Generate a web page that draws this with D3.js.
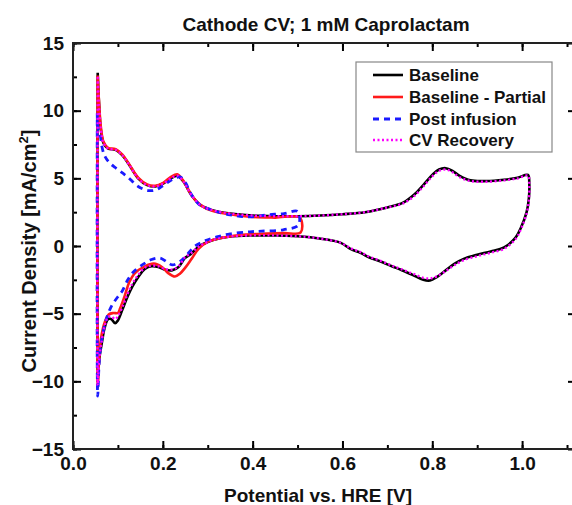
<!DOCTYPE html>
<html><head><meta charset="utf-8">
<script src="https://cdn.jsdelivr.net/npm/d3@7"></script>
<style>html,body{margin:0;padding:0;background:#fff;overflow:hidden}svg{display:block}text{font-family:"Liberation Sans",Arial,sans-serif;font-weight:bold}</style>
</head><body>
<script>
// ---- data ----
const seriesNames = ["Baseline", "Baseline - Partial", "Post infusion", "CV Recovery"];
const xTicks = [0.0, 0.2, 0.4, 0.6, 0.8, 1.0];
const yTicks = [-15, -10, -5, 0, 5, 10, 15];
const baseline = [[0.055,12.8],[0.058,10.5],[0.062,8.6],[0.068,7.6],[0.078,7.2],[0.095,7.1],[0.11,6.7],[0.125,6.0],[0.145,5.0],[0.165,4.5],[0.183,4.4],[0.2,4.6],[0.218,5.0],[0.232,5.2],[0.245,4.8],[0.265,3.7],[0.285,3.0],[0.31,2.65],[0.35,2.4],[0.4,2.25],[0.45,2.2],[0.5,2.2],[0.55,2.25],[0.6,2.35],[0.65,2.5],[0.7,2.85],[0.735,3.2],[0.76,3.8],[0.78,4.5],[0.8,5.25],[0.815,5.65],[0.83,5.75],[0.845,5.55],[0.86,5.2],[0.885,4.85],[0.92,4.8],[0.96,4.9],[0.99,5.05],[1.013,5.25],[1.016,4.6],[1.015,3.5],[1.01,2.5],[0.998,1.4],[0.985,0.6],[0.96,-0.1],[0.93,-0.4],[0.9,-0.65],[0.87,-0.95],[0.85,-1.3],[0.83,-1.8],[0.81,-2.3],[0.795,-2.55],[0.78,-2.5],[0.757,-2.15],[0.73,-1.75],[0.71,-1.5],[0.685,-1.15],[0.66,-0.85],[0.64,-0.5],[0.62,-0.25],[0.595,0.25],[0.56,0.5],[0.528,0.65],[0.5,0.72],[0.45,0.78],[0.4,0.78],[0.35,0.7],[0.312,0.45],[0.29,0.15],[0.278,-0.1],[0.262,-0.6],[0.249,-0.9],[0.235,-1.55],[0.22,-1.8],[0.205,-1.75],[0.19,-1.55],[0.175,-1.5],[0.16,-1.7],[0.145,-2.3],[0.132,-3.0],[0.122,-3.7],[0.11,-4.7],[0.1,-5.5],[0.094,-5.7],[0.085,-5.4],[0.078,-5.4],[0.07,-6.1],[0.064,-7.2],[0.059,-8.2],[0.056,-9.5],[0.055,-10.0],[0.055,12.8]];
const baselinePartial = [[0.055,12.6],[0.058,10.6],[0.062,8.8],[0.068,7.7],[0.078,7.25],[0.095,7.15],[0.11,6.75],[0.125,6.05],[0.145,5.05],[0.165,4.55],[0.183,4.45],[0.2,4.65],[0.218,5.1],[0.232,5.3],[0.245,4.85],[0.265,3.7],[0.285,3.0],[0.31,2.6],[0.35,2.35],[0.4,2.15],[0.45,2.1],[0.505,2.1],[0.507,1.0],[0.47,0.95],[0.42,0.9],[0.37,0.8],[0.33,0.6],[0.3,0.3],[0.28,-0.2],[0.265,-0.9],[0.25,-1.6],[0.238,-2.05],[0.227,-2.25],[0.212,-2.0],[0.198,-1.55],[0.18,-1.3],[0.16,-1.5],[0.138,-2.0],[0.125,-2.7],[0.115,-3.7],[0.105,-4.6],[0.1,-4.95],[0.09,-4.95],[0.08,-5.05],[0.07,-5.7],[0.064,-6.5],[0.06,-7.5],[0.057,-9.0],[0.055,-10.5],[0.055,12.6]];
const postInfusion = [[0.054,9.8],[0.056,8.6],[0.06,8.3],[0.064,7.4],[0.07,6.7],[0.08,6.2],[0.094,5.8],[0.11,5.4],[0.122,5.1],[0.145,4.4],[0.167,4.1],[0.185,4.15],[0.2,4.45],[0.22,4.9],[0.238,5.1],[0.25,4.7],[0.262,3.9],[0.28,3.1],[0.31,2.65],[0.35,2.3],[0.394,2.15],[0.432,2.3],[0.47,2.4],[0.5,2.55],[0.502,1.55],[0.468,1.2],[0.42,1.1],[0.394,1.05],[0.35,0.9],[0.32,0.67],[0.295,0.4],[0.272,0.0],[0.255,-0.6],[0.24,-1.1],[0.222,-1.4],[0.21,-1.2],[0.194,-0.9],[0.175,-1.0],[0.154,-1.4],[0.135,-1.9],[0.122,-2.5],[0.11,-3.3],[0.1,-3.75],[0.09,-4.2],[0.082,-4.7],[0.075,-5.3],[0.068,-6.2],[0.062,-7.3],[0.058,-8.8],[0.055,-11.1],[0.054,9.8]];
const cvRecovery = [[0.055,12.5],[0.058,10.4],[0.062,8.6],[0.068,7.6],[0.078,7.2],[0.095,7.1],[0.11,6.7],[0.125,6.0],[0.145,5.0],[0.165,4.5],[0.183,4.4],[0.2,4.6],[0.218,5.0],[0.232,5.2],[0.245,4.8],[0.265,3.7],[0.285,3.0],[0.31,2.65],[0.35,2.4],[0.4,2.25],[0.45,2.2],[0.5,2.2],[0.55,2.25],[0.6,2.35],[0.65,2.5],[0.7,2.85],[0.735,3.15],[0.76,3.7],[0.78,4.4],[0.8,5.15],[0.815,5.55],[0.83,5.65],[0.845,5.45],[0.86,5.1],[0.885,4.8],[0.92,4.75],[0.96,4.85],[0.99,5.0],[1.013,5.2],[1.016,4.5],[1.015,3.4],[1.01,2.4],[0.998,1.3],[0.985,0.5],[0.96,-0.2],[0.93,-0.5],[0.9,-0.75],[0.87,-1.05],[0.85,-1.4],[0.83,-1.85],[0.81,-2.25],[0.795,-2.4],[0.78,-2.35],[0.757,-2.05],[0.73,-1.7],[0.71,-1.45],[0.685,-1.1],[0.66,-0.8],[0.64,-0.45],[0.62,-0.2],[0.595,0.25],[0.56,0.5],[0.528,0.65],[0.5,0.72],[0.45,0.78],[0.4,0.78],[0.35,0.7],[0.312,0.45],[0.29,0.15],[0.278,-0.1],[0.262,-0.55],[0.249,-0.85],[0.235,-1.5],[0.22,-1.75],[0.205,-1.7],[0.19,-1.5],[0.175,-1.45],[0.16,-1.6],[0.145,-2.15],[0.132,-2.8],[0.122,-3.5],[0.11,-4.5],[0.1,-5.2],[0.094,-5.4],[0.085,-5.2],[0.078,-5.25],[0.07,-6.0],[0.064,-7.0],[0.059,-8.2],[0.056,-9.6],[0.055,-10.3],[0.055,12.5]];

// ---- layout ----
const W = 572, H = 505;
const m = {left: 73, top: 43, right: 576, bottom: 449};
const svg = d3.select("body").append("svg").attr("width", W).attr("height", H);
const x = d3.scaleLinear().domain([0, 1.12]).range([m.left, m.right]);
const y = d3.scaleLinear().domain([-15, 15]).range([m.bottom, m.top]);

const xMinor = d3.range(0, 1.11, 0.1);
const yMinor = d3.range(-15, 15.1, 2.5);

function styleAxis(g) {
  g.select(".domain").remove();
  g.selectAll("line").attr("stroke", "#000").attr("stroke-width", 2);
  g.selectAll("text").attr("font-size", 19).attr("font-weight", "bold").attr("fill", "#111");
}
// minor ticks
svg.append("g").attr("transform", `translate(0,${m.bottom})`).call(d3.axisTop(x).tickValues(xMinor).tickSize(4).tickFormat("")).call(styleAxis);
svg.append("g").attr("transform", `translate(0,${m.top})`).call(d3.axisBottom(x).tickValues(xMinor).tickSize(4).tickFormat("")).call(styleAxis);
svg.append("g").attr("transform", `translate(${m.left},0)`).call(d3.axisRight(y).tickValues(yMinor).tickSize(4).tickFormat("")).call(styleAxis);
svg.append("g").attr("transform", `translate(${m.right},0)`).call(d3.axisLeft(y).tickValues(yMinor).tickSize(4).tickFormat("")).call(styleAxis);
// major ticks
svg.append("g").attr("transform", `translate(0,${m.bottom})`).call(d3.axisTop(x).tickValues(xTicks).tickSize(8).tickFormat("")).call(styleAxis);
svg.append("g").attr("transform", `translate(0,${m.top})`).call(d3.axisBottom(x).tickValues(xTicks).tickSize(8).tickFormat("")).call(styleAxis);
svg.append("g").attr("transform", `translate(${m.left},0)`).call(d3.axisRight(y).tickValues(yTicks).tickSize(8).tickFormat("")).call(styleAxis);
svg.append("g").attr("transform", `translate(${m.right},0)`).call(d3.axisLeft(y).tickValues(yTicks).tickSize(8).tickFormat("")).call(styleAxis);
// labels
const xl = svg.append("g").attr("transform", `translate(0,${m.bottom})`).call(d3.axisBottom(x).tickValues(xTicks).tickSize(0).tickPadding(10).tickFormat(d3.format(".1f")));
styleAxis(xl); xl.selectAll("text").attr("dy", "0.71em").attr("y", 8);
const yl = svg.append("g").attr("transform", `translate(${m.left},0)`).call(d3.axisLeft(y).tickValues(yTicks).tickSize(0).tickPadding(9).tickFormat(d3.format("d")));
styleAxis(yl);

// frame
svg.append("rect").attr("x", m.left).attr("y", m.top).attr("width", m.right - m.left).attr("height", m.bottom - m.top)
  .attr("fill", "none").attr("stroke", "#222").attr("stroke-width", 2);

// lines
const line = d3.line().x(d => x(d[0])).y(d => y(d[1])).curve(d3.curveCatmullRom.alpha(0.5));
const styles = [
  {data: baseline, color: "#000000", w: 2.6, dash: null},
  {data: baselinePartial, color: "#ff1a1a", w: 2.6, dash: null},
  {data: postInfusion, color: "#1a1aff", w: 2.8, dash: "6,5"},
  {data: cvRecovery, color: "#ff00ff", w: 2.4, dash: "2,2.5"}
];
const plot = svg.append("g");
styles.forEach(s => {
  plot.append("path").datum(s.data).attr("d", line).attr("fill", "none")
    .attr("stroke", s.color).attr("stroke-width", s.w).attr("stroke-dasharray", s.dash)
    .attr("stroke-linejoin", "round");
});

// legend
const lg = svg.append("g");
lg.append("rect").attr("x", 356).attr("y", 62).attr("width", 196).attr("height", 90)
  .attr("fill", "#fff").attr("stroke", "#888").attr("stroke-width", 1.2);
const rowY = [75, 97, 119, 140];
styles.forEach((s, i) => {
  lg.append("line").attr("x1", 373).attr("x2", 403).attr("y1", rowY[i]).attr("y2", rowY[i])
    .attr("stroke", s.color).attr("stroke-width", s.w).attr("stroke-dasharray", s.dash);
  lg.append("text").attr("x", 409).attr("y", rowY[i]).attr("dy", "0.35em")
    .attr("font-size", 17).attr("fill", "#111").text(seriesNames[i]);
});

// titles
svg.append("text").attr("x", 326).attr("y", 31).attr("text-anchor", "middle").attr("font-size", 19).attr("fill", "#111")
  .text("Cathode CV; 1 mM Caprolactam");
svg.append("text").attr("x", 318).attr("y", 502).attr("text-anchor", "middle").attr("font-size", 19).attr("fill", "#111")
  .text("Potential vs. HRE [V]");
const yt = svg.append("text").attr("transform", "translate(36,251) rotate(-90)").attr("text-anchor", "middle")
  .attr("font-size", 20).attr("fill", "#111");
yt.append("tspan").text("Current Density [mA/cm");
yt.append("tspan").attr("font-size", 13).attr("dy", "-8").text("2");
yt.append("tspan").attr("dy", "8").text("]");
</script>
</body></html>
